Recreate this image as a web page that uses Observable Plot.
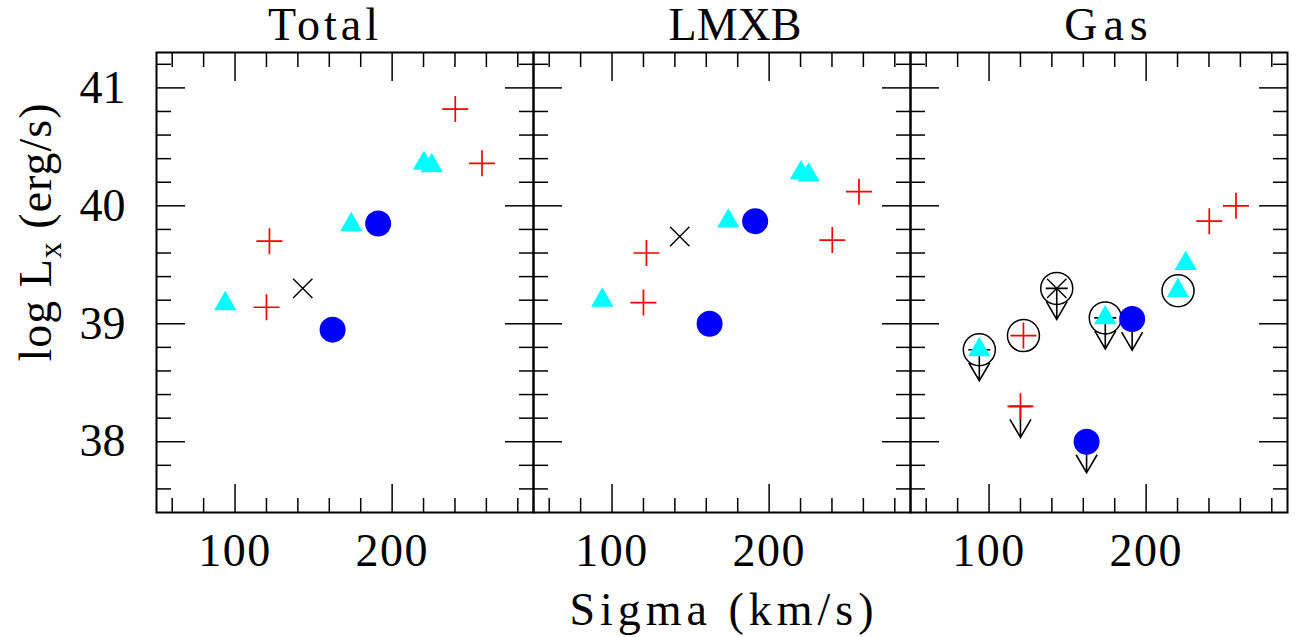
<!DOCTYPE html>
<html>
<head>
<meta charset="utf-8">
<script src="https://cdn.jsdelivr.net/npm/d3@7"></script>
<script src="https://cdn.jsdelivr.net/npm/@observablehq/plot@0.6"></script>
<style>
html, body { margin: 0; padding: 0; background: #fff; }
#chart { width: 1296px; height: 637px; }
g[aria-label="x-axis tick label"] text { letter-spacing: 1.5px; }
</style>
</head>
<body>
<div id="chart"></div>
<script>
// ---- data ----
const panels = ["Total", "LMXB", "Gas"];
const sigma = [93.8, 121.9, 120.0, 143.1, 162.1, 191.1, 174.0, 220.3, 225.2, 240.2, 257.2];
const markerType = ["triangle", "plus", "plus", "times", "circle", "circle", "triangle", "triangle", "triangle", "plus", "plus"];
const logLTotal = [39.17, 39.70, 39.14, 39.30, 38.95, 39.85, 39.84, 40.36, 40.34, 40.82, 40.36];
const logLLMXB  = [39.20, 39.60, 39.18, 39.74, 39.00, 39.87, 39.87, 40.28, 40.26, 39.71, 40.12];
const logLGas   = [38.78, 38.90, 38.30, 39.30, 38.00, 39.04, 39.05, 39.28, 39.51, 39.87, 40.00];
const gasCircled    = [true, true, false, true, false, false, true, true, false, false, false];
const gasUpperLimit = [true, false, true, true, true, true, true, false, false, false, false];
const xMajorTicks = [100, 200];
const xMinorTicks = [60, 80, 120, 140, 160, 180, 220, 240, 260, 280];
const yMajorTicks = [38, 39, 40, 41];
const yMinorTicks = [37.6, 37.8, 38.2, 38.4, 38.6, 38.8, 39.2, 39.4, 39.6, 39.8, 40.2, 40.4, 40.6, 40.8, 41.2];
const xLabel = "Sigma (km/s)";

// ---- table ----
const series = {Total: logLTotal, LMXB: logLLMXB, Gas: logLGas};
const rows = [];
panels.forEach(p => sigma.forEach((s, i) => rows.push({
  panel: p, sigma: s, logL: series[p][i], type: markerType[i],
  circled: p === "Gas" && gasCircled[i], limit: p === "Gas" && gasUpperLimit[i]
})));

// ---- symbols ----
const plusSym = {draw(c) { c.moveTo(-13, 0); c.lineTo(13, 0); c.moveTo(0, -13); c.lineTo(0, 13); }};
const timesSym = {draw(c) { const r = 9.7; c.moveTo(-r, -r); c.lineTo(r, r); c.moveTo(-r, r); c.lineTo(r, -r); }};
const triSym = {draw(c) { const h = 6.45, w = Math.sqrt(3) * h; c.moveTo(0, -2 * h); c.lineTo(w, h); c.lineTo(-w, h); c.closePath(); }};
const limitSym = {draw(c) {
  c.moveTo(-11, 0); c.lineTo(11, 0);
  c.moveTo(0, 0); c.lineTo(0, 31);
  c.moveTo(-10.5, 13); c.lineTo(0, 31); c.lineTo(10.5, 13);
}};

const common = {x: "sigma", y: "logL", fx: "panel"};
const tk = {stroke: "black", strokeWidth: 1.5, fill: "none", facetAnchor: null, label: null};
const fmt = d3.format("d");

const chart = Plot.plot({
  width: 1296, height: 637,
  marginLeft: 155, marginRight: 8, marginTop: 52, marginBottom: 125,
  style: {fontFamily: "'Liberation Serif', serif", fontSize: "46px", color: "black", background: "white"},
  fx: {domain: panels, padding: 0, axis: null},
  x: {domain: [50, 290]},
  y: {domain: [37.4, 41.3]},
  marks: [
    Plot.axisX(xMajorTicks, {anchor: "bottom", tickSize: -28, ...tk}),
    Plot.axisX(xMinorTicks, {anchor: "bottom", tickSize: -14, ...tk}),
    Plot.axisX(xMajorTicks, {anchor: "top", tickSize: -28, ...tk}),
    Plot.axisX(xMinorTicks, {anchor: "top", tickSize: -14, ...tk}),
    Plot.axisY(yMajorTicks, {anchor: "left", tickSize: -29, ...tk}),
    Plot.axisY(yMinorTicks, {anchor: "left", tickSize: -15, ...tk}),
    Plot.axisY(yMajorTicks, {anchor: "right", tickSize: -29, ...tk}),
    Plot.axisY(yMinorTicks, {anchor: "right", tickSize: -15, ...tk}),
    Plot.axisX(xMajorTicks, {anchor: "bottom", tickSize: 0, tickPadding: 21, fontSize: 46, label: null, tickFormat: fmt}),
    Plot.axisY(yMajorTicks, {anchor: "left", tickSize: 0, tickPadding: 31, fontSize: 46, label: null, tickFormat: fmt}),
    Plot.frame({stroke: "black", strokeWidth: 2}),
    Plot.text(["Total"], {fx: d => d, text: d => d, frameAnchor: "top", lineAnchor: "bottom", dy: -13, dx: -20, fontSize: 46}),
    Plot.text(["LMXB"], {fx: d => d, text: d => d, frameAnchor: "top", lineAnchor: "bottom", dy: -13, dx: 13, fontSize: 46}),
    Plot.text(["Gas"], {fx: d => d, text: d => d, frameAnchor: "top", lineAnchor: "bottom", dy: -13, dx: 10, fontSize: 46}),
    Plot.dot(rows.filter(d => d.circled), {...common, r: 16, stroke: "black", strokeWidth: 1.5, fill: "none"}),
    Plot.dot(rows.filter(d => d.limit), {...common, symbol: limitSym, r: 5, stroke: "black", strokeWidth: 1.6, fill: "none"}),
    Plot.dot(rows.filter(d => d.type === "circle"), {...common, r: 13, fill: "#0000ff", stroke: "none"}),
    Plot.dot(rows.filter(d => d.type === "triangle"), {...common, symbol: triSym, r: 5, fill: "#00ffff", stroke: "none"}),
    Plot.dot(rows.filter(d => d.type === "plus"), {...common, symbol: plusSym, r: 5, stroke: "#ff0000", strokeWidth: 1.7, fill: "none"}),
    Plot.dot(rows.filter(d => d.type === "times"), {...common, symbol: timesSym, r: 5, stroke: "black", strokeWidth: 1.4, fill: "none"})
  ]
});

const svg = d3.select(chart);
svg.selectAll("text").filter(function() { return this.textContent === "Total"; }).style("letter-spacing", "4px");
svg.selectAll("text").filter(function() { return this.textContent === "Gas"; }).style("letter-spacing", "6px");
svg.append("text")
  .attr("x", 724).attr("y", 625).attr("text-anchor", "middle")
  .style("font-size", "46px").style("letter-spacing", "5px").text(xLabel);
const yl = svg.append("text")
  .attr("transform", "translate(51,232) rotate(-90)").attr("text-anchor", "middle")
  .style("font-size", "46px").style("letter-spacing", "1px");
yl.append("tspan").text("log L");
yl.append("tspan").attr("dy", 10).style("font-size", "32px").text("x");
yl.append("tspan").attr("dy", -10).text(" (erg/s)");

document.getElementById("chart").appendChild(chart);
</script>
</body>
</html>
